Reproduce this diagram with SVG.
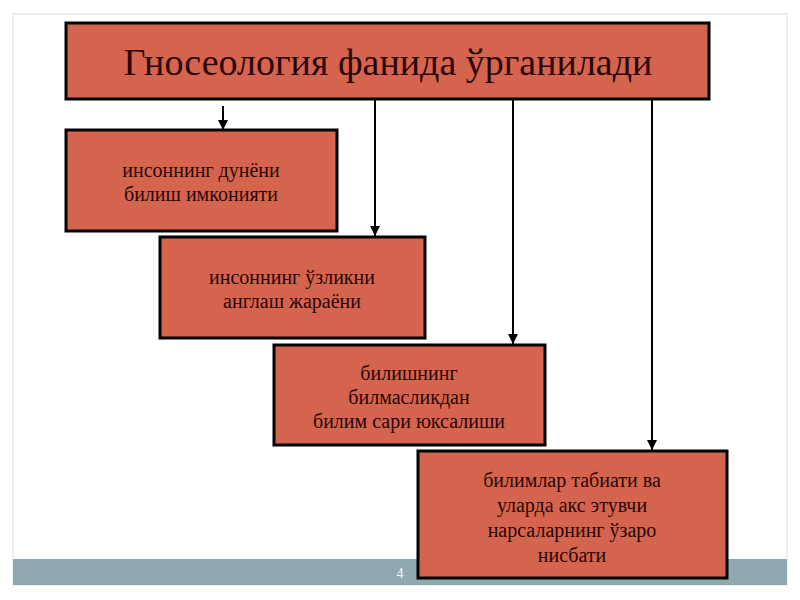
<svg xmlns="http://www.w3.org/2000/svg" width="800" height="600" viewBox="0 0 800 600">
<defs>
<style>
.b{fill:#d4644d;stroke:#000;stroke-width:3}
.t{font-family:"Liberation Serif","DejaVu Serif",serif;fill:#2a0505;text-anchor:middle;font-size:20px}
.c{stroke:#000;stroke-width:2;fill:none;marker-end:url(#a)}
</style>
<marker id="a" viewBox="0 0 10 10" refX="10" refY="5" markerWidth="5" markerHeight="5" orient="auto"><path d="M0,0L10,5L0,10z" fill="#000"/></marker>
</defs>
<rect width="800" height="600" fill="#fff"/>
<rect x="13" y="14" width="774" height="571" fill="#fff" stroke="#ddd" stroke-width="1"/>
<rect x="13" y="559" width="774" height="26" fill="#8eaab0"/>
<text x="400" y="578" font-family="Liberation Serif,serif" font-size="14" fill="#fff" text-anchor="middle">4</text>
<g id="connectors">
<line class="c" x1="223" y1="106" x2="223" y2="130"/>
<line class="c" x1="375" y1="99" x2="375" y2="236"/>
<line class="c" x1="513" y1="99" x2="513" y2="344"/>
<line class="c" x1="652" y1="99" x2="652" y2="450"/>
</g>
<g id="title"><rect class="b" x="66" y="23" width="643" height="76"/>
<text class="t" x="388" y="75" style="font-size:38px">Гносеология фанида ўрганилади</text></g>
<g id="n1"><rect class="b" x="66" y="130" width="271" height="101"/>
<text class="t" x="201" y="177">инсоннинг дунёни</text><text class="t" x="201" y="201">билиш имконияти</text></g>
<g id="n2"><rect class="b" x="160" y="237" width="265" height="101"/>
<text class="t" x="292" y="284">инсоннинг ўзликни</text><text class="t" x="292" y="308">англаш жараёни</text></g>
<g id="n3"><rect class="b" x="274" y="345" width="271" height="100"/>
<text class="t" x="409" y="380">билишнинг</text><text class="t" x="409" y="404">билмасликдан</text><text class="t" x="409" y="428">билим сари юксалиши</text></g>
<g id="n4"><rect class="b" x="418" y="451" width="309" height="127"/>
<text class="t" x="572" y="487">билимлар табиати ва</text><text class="t" x="572" y="512">уларда акс этувчи</text><text class="t" x="572" y="537">нарсаларнинг ўзаро</text><text class="t" x="572" y="562">нисбати</text></g>
</svg>
